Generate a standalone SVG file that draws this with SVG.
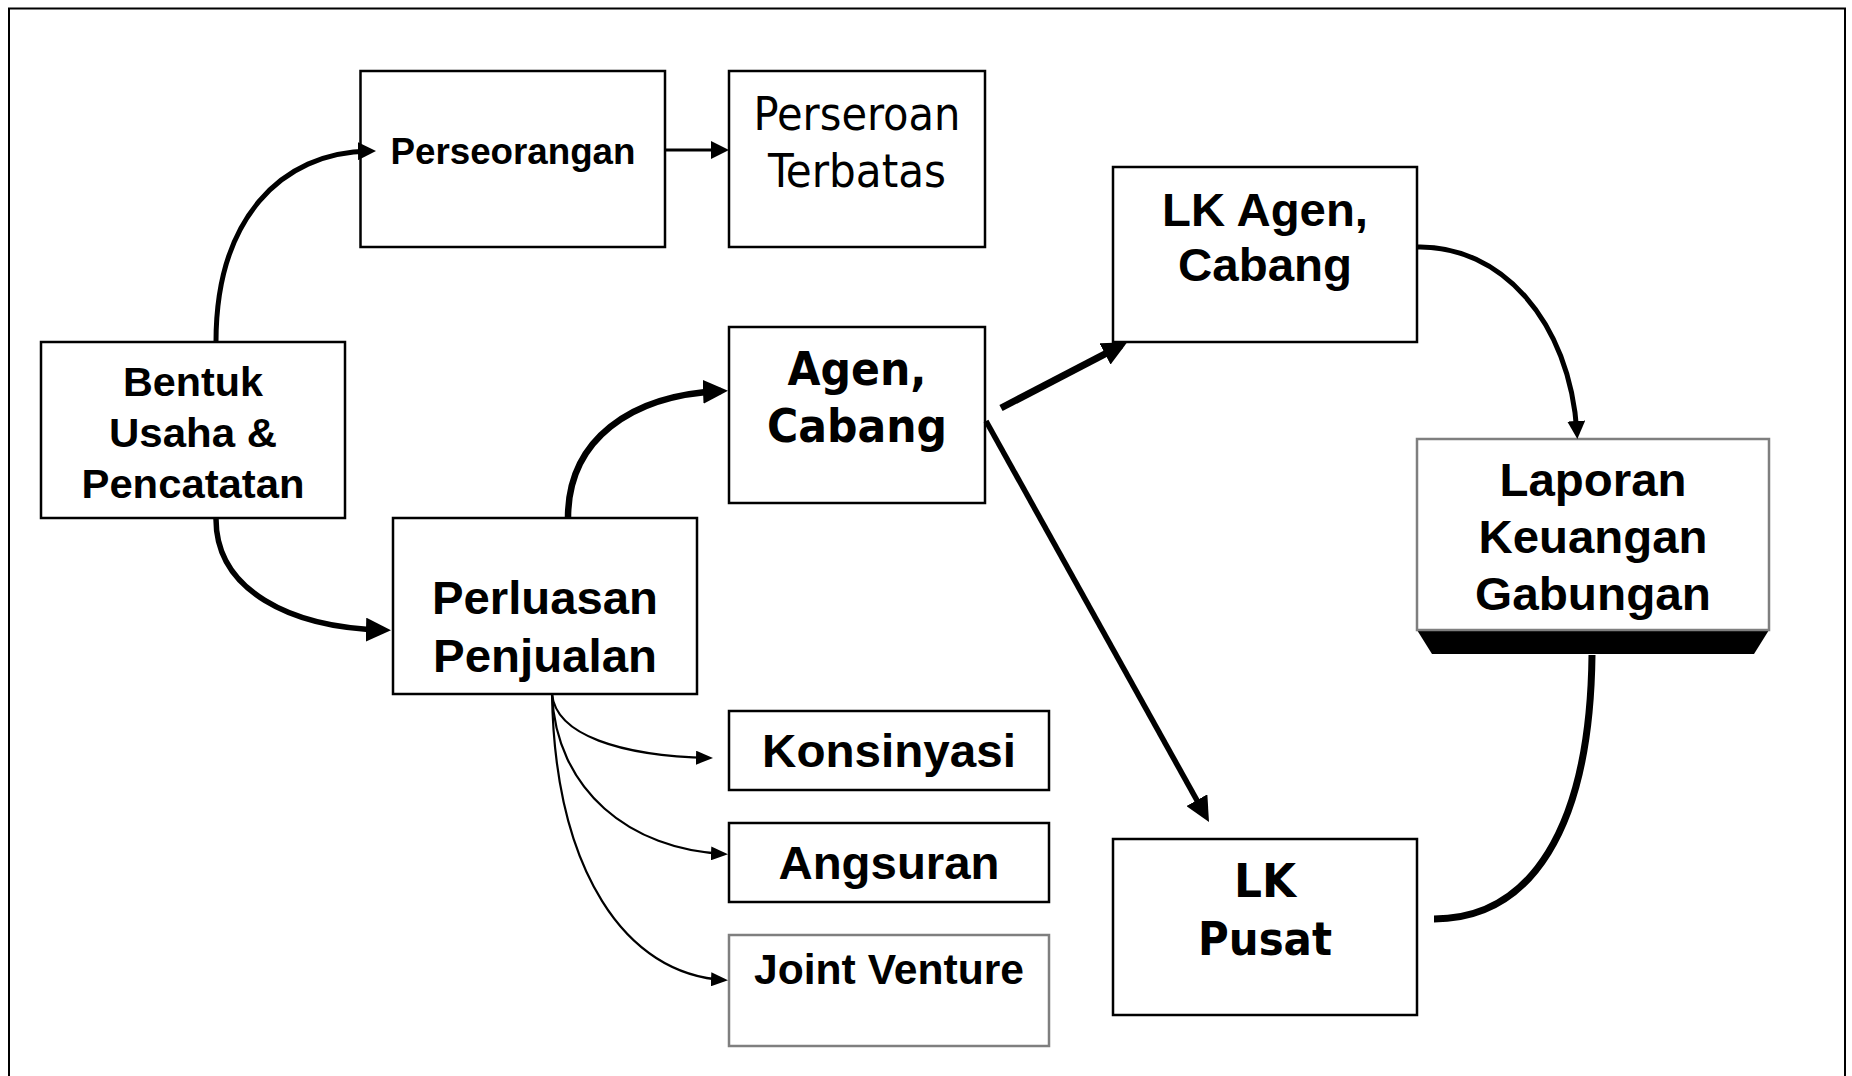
<svg xmlns="http://www.w3.org/2000/svg" width="1852" height="1076" viewBox="0 0 1852 1076">
<style>
.box{fill:#fff;stroke:#000;stroke-width:2.5}
.gbox{fill:#fff;stroke:#7f7f7f;stroke-width:2.5}
.a{font-family:"Liberation Sans",Arial,sans-serif;font-weight:bold;text-anchor:middle;fill:#000}
.t{font-family:"DejaVu Sans Condensed","DejaVu Sans",sans-serif;font-stretch:condensed;text-anchor:middle;fill:#000}
.c{fill:none;stroke:#000}
</style>
<defs>
<marker id="mThin" markerUnits="userSpaceOnUse" markerWidth="17" markerHeight="14" refX="14" refY="7" orient="auto"><path d="M0,0 L17,7 L0,14 z" fill="#000"/></marker>
<marker id="mMed" markerUnits="userSpaceOnUse" markerWidth="18" markerHeight="18" refX="12" refY="9" orient="auto"><path d="M0,0 L18,9 L0,18 z" fill="#000"/></marker>
<marker id="mThick" markerUnits="userSpaceOnUse" markerWidth="25" markerHeight="24" refX="18" refY="12" orient="auto"><path d="M0,0 L25,12 L0,24 z" fill="#000"/></marker>
</defs>
<rect x="0" y="0" width="1852" height="1076" fill="#fff"/>
<rect x="9" y="8.5" width="1836" height="1080" fill="none" stroke="#000" stroke-width="2"/>

<g id="perseorangan">
<rect class="box" x="360.5" y="71" width="304.5" height="176"/>
<text class="a" x="513" y="164" font-size="37" textLength="245" lengthAdjust="spacingAndGlyphs">Perseorangan</text>
</g>
<g id="perseroan-terbatas">
<rect class="box" x="729" y="71" width="256" height="176"/>
<text class="t" x="857" y="130" font-size="46" textLength="207" lengthAdjust="spacingAndGlyphs">Perseroan</text>
<text class="t" x="857" y="187" font-size="46" textLength="178" lengthAdjust="spacingAndGlyphs">Terbatas</text>
</g>
<g id="bentuk-usaha">
<rect class="box" x="41" y="342" width="304" height="176"/>
<text class="a" x="193" y="396" font-size="41" textLength="140" lengthAdjust="spacingAndGlyphs">Bentuk</text>
<text class="a" x="193" y="447" font-size="41" textLength="168" lengthAdjust="spacingAndGlyphs">Usaha &amp;</text>
<text class="a" x="193" y="498" font-size="41" textLength="223" lengthAdjust="spacingAndGlyphs">Pencatatan</text>
</g>
<g id="agen-cabang">
<rect class="box" x="729" y="327" width="256" height="176"/>
<text class="t" x="857" y="385" font-size="47" font-weight="bold" textLength="139" lengthAdjust="spacingAndGlyphs">Agen,</text>
<text class="t" x="857" y="442" font-size="47" font-weight="bold" textLength="180" lengthAdjust="spacingAndGlyphs">Cabang</text>
</g>
<g id="perluasan-penjualan">
<rect class="box" x="393" y="518" width="304" height="176"/>
<text class="a" x="545" y="614" font-size="47" textLength="226" lengthAdjust="spacingAndGlyphs">Perluasan</text>
<text class="a" x="545" y="672" font-size="47" textLength="224" lengthAdjust="spacingAndGlyphs">Penjualan</text>
</g>
<g id="lk-agen-cabang">
<rect class="box" x="1113" y="167" width="304" height="175"/>
<text class="a" x="1265" y="226" font-size="47" textLength="206" lengthAdjust="spacingAndGlyphs">LK Agen,</text>
<text class="a" x="1265" y="281" font-size="47" textLength="174" lengthAdjust="spacingAndGlyphs">Cabang</text>
</g>
<g id="laporan-keuangan-gabungan">
<polygon points="1417,630 1769,630 1754,654 1432,654" fill="#000"/>
<rect class="gbox" x="1417" y="439" width="352" height="191"/>
<text class="a" x="1593" y="496" font-size="47" textLength="187" lengthAdjust="spacingAndGlyphs">Laporan</text>
<text class="a" x="1593" y="553" font-size="47" textLength="229" lengthAdjust="spacingAndGlyphs">Keuangan</text>
<text class="a" x="1593" y="610" font-size="47" textLength="236" lengthAdjust="spacingAndGlyphs">Gabungan</text>
</g>
<g id="konsinyasi">
<rect class="box" x="729" y="711" width="320" height="79"/>
<text class="a" x="889" y="767" font-size="47" textLength="254" lengthAdjust="spacingAndGlyphs">Konsinyasi</text>
</g>
<g id="angsuran">
<rect class="box" x="729" y="823" width="320" height="79"/>
<text class="a" x="889" y="879" font-size="47" textLength="221" lengthAdjust="spacingAndGlyphs">Angsuran</text>
</g>
<g id="joint-venture">
<rect class="gbox" x="729" y="935" width="320" height="111"/>
<text class="a" x="889" y="984" font-size="42" textLength="270" lengthAdjust="spacingAndGlyphs">Joint Venture</text>
</g>
<g id="lk-pusat">
<rect class="box" x="1113" y="839" width="304" height="176"/>
<text class="t" x="1265" y="897" font-size="47" font-weight="bold" textLength="62" lengthAdjust="spacingAndGlyphs">LK</text>
<text class="t" x="1265" y="955" font-size="47" font-weight="bold" textLength="134" lengthAdjust="spacingAndGlyphs">Pusat</text>
</g>

<g id="connectors">
<path class="c" stroke-width="5" d="M216,342 C216,220 280,152 370,151" marker-end="url(#mMed)"/>
<path class="c" stroke-width="5.5" d="M216,519 C216,590 290,628 384,630" marker-end="url(#mThick)"/>
<path class="c" stroke-width="3" d="M665,150 L723,150" marker-end="url(#mMed)"/>
<path class="c" stroke-width="6.5" d="M568,518 C568,440 630,395 721,391" marker-end="url(#mThick)"/>
<path class="c" stroke-width="7" d="M1001,408 L1121,345.6" marker-end="url(#mThick)"/>
<path class="c" stroke-width="5.5" d="M986,421 L1205.6,815.9" marker-end="url(#mThick)"/>
<path class="c" stroke-width="5" d="M1417,247 C1500,245 1570,320 1577,433" marker-end="url(#mMed)"/>
<path class="c" stroke-width="7" d="M1592,655 C1590,830 1530,919 1434,919"/>
<path class="c" stroke-width="2.2" d="M552,694 C556,735 620,756 710,758" marker-end="url(#mThin)"/>
<path class="c" stroke-width="2.2" d="M552,694 C556,790 630,850 725,854" marker-end="url(#mThin)"/>
<path class="c" stroke-width="2.2" d="M552,694 C555,870 625,975 725,980" marker-end="url(#mThin)"/>
</g>
</svg>
